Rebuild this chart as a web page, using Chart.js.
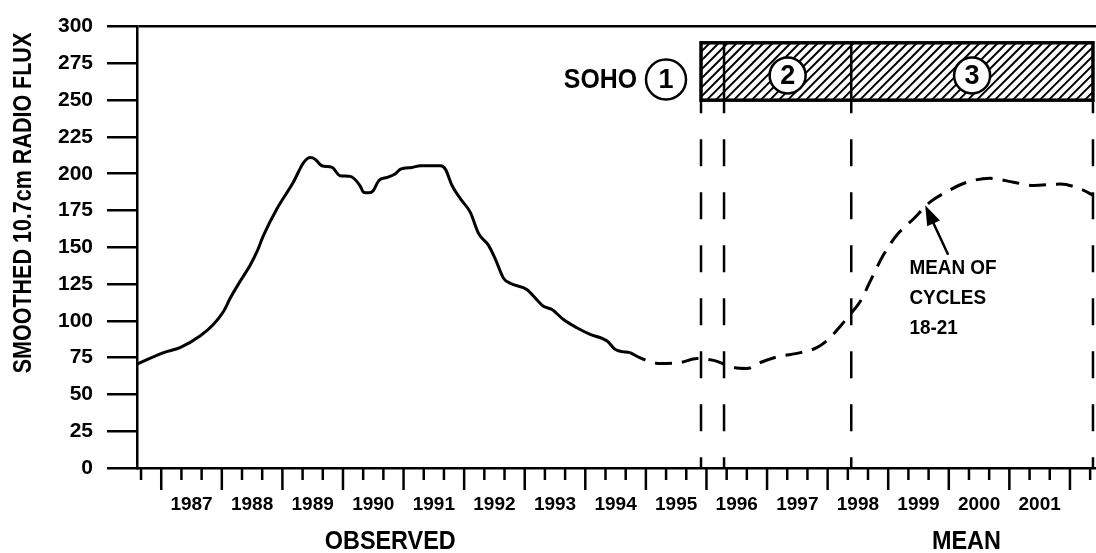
<!DOCTYPE html>
<html>
<head>
<meta charset="utf-8">
<script src="https://cdn.jsdelivr.net/npm/chart.js@4.4.1/dist/chart.umd.min.js"></script>
<style>
  html, body { margin: 0; padding: 0; background: #fff; }
  #wrap { width: 1096px; height: 553px; }
</style>
</head>
<body>
<div id="wrap"><canvas id="flux" width="1096" height="553"></canvas></div>
<script>
// observed smoothed 10.7cm flux (decimal years)
const obsYears = [1986.60, 1987.04, 1987.31, 1987.64, 1987.86, 1988.03, 1988.14, 1988.30, 1988.47, 1988.58,
  1988.69, 1988.91, 1989.18, 1989.35, 1989.46, 1989.54, 1989.65, 1989.82, 1989.95, 1990.12,
  1990.28, 1990.34, 1990.42, 1990.50, 1990.59, 1990.73, 1990.86, 1990.95, 1991.14, 1991.28,
  1991.61, 1991.69, 1991.80, 1991.94, 1992.10, 1992.24, 1992.40, 1992.51, 1992.65, 1992.76,
  1993.04, 1993.20, 1993.31, 1993.45, 1993.64, 1993.86, 1994.08, 1994.36, 1994.49, 1994.74];
const obsFlux = [70.6, 78.4, 81.8, 89.7, 97.5, 106.5, 115.5, 126.7, 138, 147,
  158.2, 176.2, 194.2, 207.6, 211, 209.9, 205.4, 204.3, 198.7, 198.2,
  192, 187.4, 187, 188.5, 195.3, 197.5, 199.8, 203.1, 204.3, 205.4,
  205.4, 203.1, 192, 182.9, 173.9, 159.3, 151.5, 142.5, 129, 125.6,
  121.2, 114.4, 109.9, 107.7, 100.9, 95.3, 90.8, 86.3, 80.7, 78.4];

// mean of cycles 18-21
const meanYears = [1994.74, 1994.96, 1995.24, 1995.57, 1995.84, 1996.00, 1996.15, 1996.45, 1996.67, 1996.89,
  1997.16, 1997.55, 1997.82, 1998.04, 1998.21, 1998.37, 1998.54, 1998.70, 1998.92, 1999.14,
  1999.42, 1999.69, 1999.97, 2000.30, 2000.68, 2001.07, 2001.40, 2001.84, 2002.17, 2002.39];
const meanFlux = [78.4, 73.9, 71, 71.7, 74.4, 73.9, 72.8, 68.3, 67.6, 71.7,
  75.5, 78.4, 81.8, 88.5, 96.4, 104.3, 113.3, 126.7, 144.7, 158.2,
  169.4, 180.7, 187.9, 194.2, 196.9, 194.2, 192, 193, 189.7, 185.2];

const yearLabels = ['1987', '1988', '1989', '1990', '1991', '1992', '1993', '1994',
  '1995', '1996', '1997', '1998', '1999', '2000', '2001'];
const yearBounds = [1987, 1988, 1989, 1990, 1991, 1992, 1993, 1994, 1995,
  1996, 1997, 1998, 1999, 2000, 2001, 2002];

// SOHO phases: launch, start of ops, phase 3, end
const sohoPhases = [1995.91, 1996.29, 1998.39, 2002.38];
const sohoNumbers = ['1', '2', '3'];
const sohoBand = [250, 289];

const regionLabels = ['OBSERVED', 'MEAN'];
const regionCentres = [1990.78, 2000.29];
const noteLines = ['MEAN OF', 'CYCLES', '18-21'];
const notePoint = [1999.35, 135.5];
const arrowFrom = [1999.99, 144.9];
const arrowTo = [1999.61, 178.6];

const INK = '#000';
const FONT = '"Liberation Sans", Arial, sans-serif';

function hatch(ctx, x0, y0, x1, y1, gap) {
  ctx.save();
  ctx.beginPath();
  ctx.rect(x0, y0, x1 - x0, y1 - y0);
  ctx.clip();
  const h = y1 - y0;
  ctx.beginPath();
  for (let x = x0 - h; x < x1 + h; x += gap) {
    ctx.moveTo(x, y1);
    ctx.lineTo(x + h, y0);
  }
  ctx.lineWidth = 2;
  ctx.stroke();
  ctx.restore();
}

function circled(ctx, cx, cy, r, txt) {
  ctx.beginPath();
  ctx.arc(cx, cy, r, 0, Math.PI * 2);
  ctx.fillStyle = '#fff';
  ctx.fill();
  ctx.lineWidth = 2.5;
  ctx.stroke();
  ctx.fillStyle = INK;
  ctx.font = 'bold 27px ' + FONT;
  ctx.textAlign = 'center';
  ctx.textBaseline = 'middle';
  ctx.fillText(txt, cx, cy + 1);
}

// squeezed text, the original lettering is narrower than Arial
function narrowText(ctx, s, x, y, squeeze) {
  ctx.save();
  ctx.translate(x, y);
  ctx.scale(squeeze, 1);
  ctx.fillText(s, 0, 0);
  ctx.restore();
}

const sketch = {
  id: 'sketch',
  afterDraw(chart) {
    const { ctx, chartArea: area, scales: { x, y } } = chart;
    ctx.save();
    ctx.strokeStyle = INK;
    ctx.fillStyle = INK;

    // year ticks, long at each year, short every 4 months
    ctx.lineWidth = 2.5;
    ctx.beginPath();
    yearBounds.forEach(yr => {
      const px = x.getPixelForValue(yr);
      ctx.moveTo(px, area.bottom);
      ctx.lineTo(px, area.bottom + 22);
    });
    for (let yr = yearBounds[0] - 1; yr <= yearBounds[yearBounds.length - 1]; yr++) {
      [1 / 3, 2 / 3].forEach(f => {
        const v = yr + f;
        if (v < x.min || v > x.max) return;
        const px = x.getPixelForValue(v);
        ctx.moveTo(px, area.bottom);
        ctx.lineTo(px, area.bottom + 12);
      });
    }
    ctx.stroke();

    // SOHO band
    const top = y.getPixelForValue(sohoBand[1]);
    const bot = y.getPixelForValue(sohoBand[0]);
    const px = sohoPhases.map(t => x.getPixelForValue(t));
    hatch(ctx, px[0], top, px[3], bot, 9);
    ctx.lineWidth = 3.5;
    ctx.strokeRect(px[0], top, px[3] - px[0], bot - top);
    ctx.lineWidth = 2.5;
    ctx.beginPath();
    [1, 2].forEach(i => { ctx.moveTo(px[i], top); ctx.lineTo(px[i], bot); });
    ctx.stroke();

    const cy = (top + bot) / 2 + 4;
    circled(ctx, px[0] - 35, cy + 4, 20, sohoNumbers[0]);
    circled(ctx, (px[1] + px[2]) / 2, cy, 18, sohoNumbers[1]);
    circled(ctx, (px[2] + px[3]) / 2, cy, 18, sohoNumbers[2]);
    ctx.font = 'bold 27px ' + FONT;
    ctx.textAlign = 'right';
    ctx.textBaseline = 'middle';
    narrowText(ctx, 'SOHO', px[0] - 35 - 20 - 9, cy + 5, 0.92);

    // phase boundaries
    ctx.lineWidth = 2.5;
    ctx.setLineDash([27, 26]);
    ctx.lineDashOffset = 14;
    px.forEach(p => {
      ctx.beginPath();
      ctx.moveTo(p, bot);
      ctx.lineTo(p, area.bottom);
      ctx.stroke();
    });
    ctx.setLineDash([]);

    // note + arrow
    ctx.font = 'bold 21px ' + FONT;
    ctx.textAlign = 'left';
    const nx = x.getPixelForValue(notePoint[0]);
    const ny = y.getPixelForValue(notePoint[1]);
    noteLines.forEach((s, i) => narrowText(ctx, s, nx, ny + i * 30, 0.9));

    const ax = x.getPixelForValue(arrowFrom[0]), ay = y.getPixelForValue(arrowFrom[1]);
    const tx = x.getPixelForValue(arrowTo[0]), ty = y.getPixelForValue(arrowTo[1]);
    const ang = Math.atan2(ty - ay, tx - ax);
    ctx.lineWidth = 2.5;
    ctx.beginPath();
    ctx.moveTo(ax, ay);
    ctx.lineTo(tx - 14 * Math.cos(ang), ty - 14 * Math.sin(ang));
    ctx.stroke();
    ctx.beginPath();
    ctx.moveTo(tx, ty);
    ctx.lineTo(tx - 20 * Math.cos(ang) + 7 * Math.sin(ang), ty - 20 * Math.sin(ang) - 7 * Math.cos(ang));
    ctx.lineTo(tx - 20 * Math.cos(ang) - 7 * Math.sin(ang), ty - 20 * Math.sin(ang) + 7 * Math.cos(ang));
    ctx.closePath();
    ctx.fill();

    // region labels under the years
    ctx.font = 'bold 26px ' + FONT;
    ctx.textAlign = 'center';
    regionLabels.forEach((s, i) => narrowText(ctx, s, x.getPixelForValue(regionCentres[i]), 542, 0.9));

    // axis title
    ctx.save();
    ctx.translate(24, 203);
    ctx.rotate(-Math.PI / 2);
    ctx.font = 'bold 25px ' + FONT;
    ctx.textAlign = 'center';
    narrowText(ctx, 'SMOOTHED 10.7cm RADIO FLUX', 0, 0, 0.86);
    ctx.restore();

    ctx.restore();
  }
};

new Chart(document.getElementById('flux'), {
  type: 'line',
  data: {
    datasets: [
      {
        label: 'Observed',
        data: obsYears.map((t, i) => ({ x: t, y: obsFlux[i] })),
        borderColor: INK,
        borderWidth: 3,
        pointRadius: 0,
        cubicInterpolationMode: 'monotone',
        borderJoinStyle: 'round'
      },
      {
        label: 'Mean of cycles 18-21',
        data: meanYears.map((t, i) => ({ x: t, y: meanFlux[i] })),
        borderColor: INK,
        borderWidth: 3,
        borderDash: [17, 10],
        pointRadius: 0,
        cubicInterpolationMode: 'monotone'
      }
    ]
  },
  options: {
    responsive: false,
    animation: false,
    devicePixelRatio: 1,
    layout: { padding: { top: 23, right: 0, bottom: 0, left: 0 } },
    plugins: { legend: { display: false }, tooltip: { enabled: false } },
    scales: {
      x: {
        type: 'linear',
        min: 1986.6,
        max: 2002.43,
        afterFit: s => { s.height = 85; },
        afterBuildTicks: s => { s.ticks = yearLabels.map(l => ({ value: Number(l) + 0.5 })); },
        ticks: {
          autoSkip: false,
          maxRotation: 0,
          padding: 25,
          color: INK,
          font: { family: FONT, size: 19, weight: 'bold' },
          callback: (v, i) => yearLabels[i]
        },
        grid: { drawOnChartArea: false, drawTicks: false, color: 'transparent' },
        border: { display: true, color: INK, width: 2.5 }
      },
      y: {
        min: 0,
        max: 300,
        afterFit: s => { s.width = 137; },
        ticks: {
          stepSize: 25,
          padding: 14,
          color: INK,
          font: { family: FONT, size: 21, weight: 'bold' }
        },
        grid: {
          drawOnChartArea: true,
          color: c => (c.tick && c.tick.value === 300 ? INK : 'transparent'),
          lineWidth: 2.5,
          tickColor: INK,
          tickWidth: 2.5,
          tickLength: 30
        },
        border: { display: true, color: INK, width: 2.5 }
      }
    }
  },
  plugins: [sketch]
});
</script>
</body>
</html>
